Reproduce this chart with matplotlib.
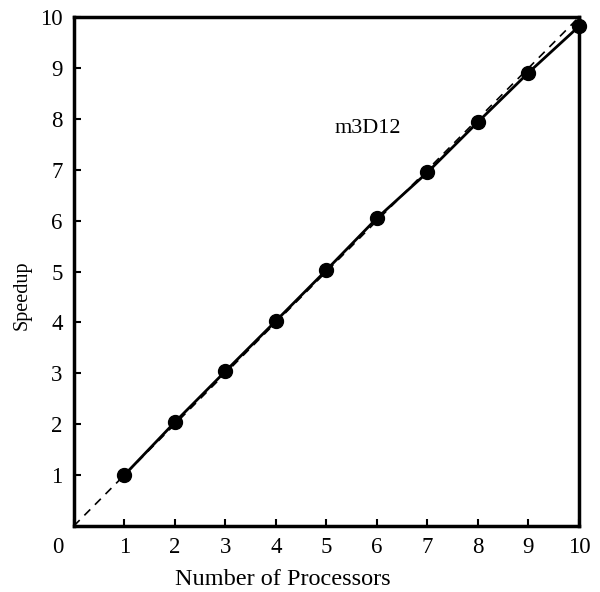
import matplotlib
matplotlib.use('Agg')
import numpy as np
from matplotlib import pyplot as plt
from matplotlib.transforms import ScaledTranslation

procs = [1, 2, 3, 4, 5, 6, 7, 8, 9, 10]
speedup = [1.0, 2.04, 3.04, 4.03, 5.03, 6.05, 6.95, 7.94, 8.91, 9.82]
ideal_x = [0, 10]
ideal_y = [0, 10]
xticks = [0, 1, 2, 3, 4, 5, 6, 7, 8, 9, 10]
yticks = [1, 2, 3, 4, 5, 6, 7, 8, 9, 10]

plt.rcParams['font.family'] = ['Liberation Serif', 'DejaVu Serif']

fig = plt.figure(figsize=(6, 5.92), dpi=100)
ax = fig.add_axes([0.123, 0.1115, 0.842, 0.8595])

ax.plot(ideal_x, ideal_y, '--', color='black', lw=1.2, dashes=(5, 4))
ax.plot(procs, speedup, '-', color='black', lw=2, marker='o', markersize=10, clip_on=False)

ax.text(5.17, 7.82, 'm3D12', fontsize=16, va='center', ha='left')

ax.set_xlim(0, 10)
ax.set_ylim(0, 10)
ax.set_xticks(xticks)
ax.set_yticks(yticks)
ax.tick_params(direction='in', length=5, width=1.5, labelsize=16.5, pad=8)
for s in ax.spines.values():
    s.set_linewidth(2.5)

# origin label sits left of the corner
lbl0 = ax.get_xticklabels()[0]
lbl0.set_transform(lbl0.get_transform() + ScaledTranslation(-0.16, 0, fig.dpi_scale_trans))

ax.set_xlabel('Number of Processors', fontsize=17.5, labelpad=7)
ax.xaxis.set_label_coords(0.414, -0.085)
ax.set_ylabel('Speedup', fontsize=14.5)
ax.yaxis.set_label_coords(-0.083, 0.454)

fig.savefig('out.png', dpi=100)
